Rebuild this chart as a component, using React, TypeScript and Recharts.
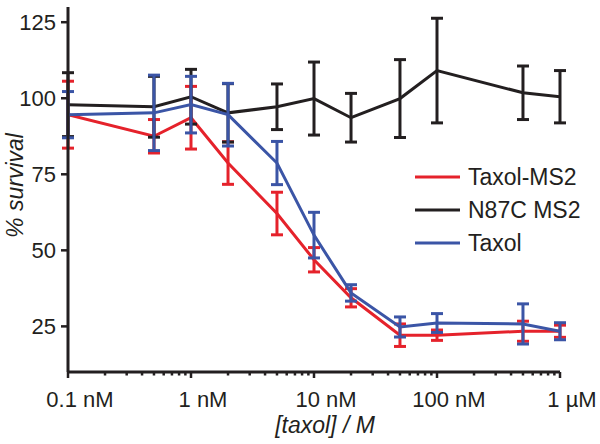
import { type FC } from "react";
import {
  ComposedChart,
  Line,
  XAxis,
  YAxis,
  ErrorBar,
  Legend,
  Label,
} from "recharts";

// concentrations in M
const conc = [1e-10, 5e-10, 1e-9, 2e-9, 5e-9, 1e-8, 2e-8, 5e-8, 1e-7, 5e-7, 1e-6];

const taxolMs2 = [94.6, 87.5, 93.6, 78.7, 62.1, 46.9, 34.4, 22.1, 22.1, 23.4, 23.4];
const taxolMs2Err = [11, 5.5, 10.3, 7, 7, 4, 3, 3.7, 1.7, 3.3, 2];

const n87c = [97.9, 97.2, 100.5, 95.2, 97.2, 99.9, 93.6, 99.9, 109.1, 101.8, 100.5];
const n87cErr = [10.5, 10, 9, 9.6, 7.5, 12, 8, 12.8, 17.2, 8.8, 8.6];

const taxol = [94.6, 95.2, 97.9, 94.6, 78.7, 55, 36, 24.8, 26.1, 25.8, 23.4];
const taxolErr = [7.6, 12.4, 9.3, 10.3, 7.1, 7.5, 2.7, 3.3, 3.1, 6.6, 2.8];

const majorTicks = [1e-10, 1e-9, 1e-8, 1e-7, 1e-6];
const majorLabels = ["0.1 nM", "1 nM", "10 nM", "100 nM", "1 µM"];
const yTicks = [25, 50, 75, 100, 125];

const RED = "#E5222B";
const BLACK = "#231F20";
const BLUE = "#3B55A6";
const FONT = "'Liberation Sans', Arial, sans-serif";

const legendItems = [
  { name: "Taxol-MS2", color: RED },
  { name: "N87C MS2", color: BLACK },
  { name: "Taxol", color: BLUE },
];

// minor ticks 2..9 of every decade
const minorTicks: number[] = [];
for (let d = -10; d < -6; d++) {
  for (let m = 2; m <= 9; m++) minorTicks.push(m * Math.pow(10, d));
}
const allTicks = [...majorTicks, ...minorTicks];

const data = conc.map((c, i) => ({
  c,
  red: taxolMs2[i],
  redErr: taxolMs2Err[i],
  black: n87c[i],
  blackErr: n87cErr[i],
  blue: taxol[i],
  blueErr: taxolErr[i],
}));

const XTick = (props: any) => {
  const { x, y, payload } = props;
  const idx = majorTicks.indexOf(payload.value);
  const major = idx >= 0;
  return (
    <g>
      <line x1={x} y1={y} x2={x} y2={y + (major ? 6 : 3.5)} stroke={BLACK} strokeWidth={2.5} />
      {major && (
        <text x={x + 12} y={y + 35} textAnchor="middle" fill={BLACK} fontSize={22} fontFamily={FONT}>
          {majorLabels[idx]}
        </text>
      )}
    </g>
  );
};

const LegendBox = () => (
  <svg width={190} height={100}>
    {legendItems.map((it, i) => (
      <g key={it.name}>
        <line x1={3} y1={17 + i * 33} x2={48} y2={17 + i * 33} stroke={it.color} strokeWidth={3} />
        <text x={56} y={25 + i * 33} fill={BLACK} fontSize={23} fontFamily={FONT}>
          {it.name}
        </text>
      </g>
    ))}
  </svg>
);

const App: FC = () => {
  return (
    <div style={{ position: "absolute", left: 0, top: 0, width: 600, height: 444, background: "#fff" }}>
      <ComposedChart
        width={600}
        height={444}
        data={data}
        margin={{ top: 7, right: 40, left: 0, bottom: 0 }}
      >
        <XAxis
          dataKey="c"
          type="number"
          scale="log"
          domain={[1e-10, 1e-6]}
          ticks={allTicks}
          interval={0}
          allowDataOverflow
          height={72}
          tickSize={0}
          tickMargin={0}
          tickLine={false}
          axisLine={{ stroke: BLACK, strokeWidth: 3 }}
          tick={<XTick />}
        >
          <Label
            content={(p: any) => {
              const vb = p.viewBox;
              return (
                <text
                  x={vb.x + vb.width / 2 + 11}
                  y={vb.y + 61}
                  textAnchor="middle"
                  fill={BLACK}
                  fontSize={23}
                  fontStyle="italic"
                  fontFamily={FONT}
                >
                  [taxol] / M
                </text>
              );
            }}
          />
        </XAxis>
        <YAxis
          type="number"
          domain={[10, 130]}
          ticks={yTicks}
          width={68}
          tickSize={7}
          tickMargin={5}
          allowDataOverflow
          axisLine={{ stroke: BLACK, strokeWidth: 3 }}
          tickLine={{ stroke: BLACK, strokeWidth: 2.5 }}
          tick={{ fill: BLACK, fontSize: 22, fontFamily: FONT }}
        >
          <Label
            content={(p: any) => {
              const vb = p.viewBox;
              const cx = 15;
              const cy = vb.y + vb.height / 2 - 4;
              return (
                <text
                  x={cx}
                  y={cy}
                  transform={`rotate(-90 ${cx} ${cy})`}
                  textAnchor="middle"
                  dominantBaseline="central"
                  fill={BLACK}
                  fontSize={23}
                  fontStyle="italic"
                  fontFamily={FONT}
                >
                  % survival
                </text>
              );
            }}
          />
        </YAxis>
        <Legend
          layout="vertical"
          align="center"
          verticalAlign="middle"
          wrapperStyle={{ left: 412, top: 160, width: 190, height: 100 }}
          content={<LegendBox />}
        />
        <Line
          type="linear"
          dataKey="red"
          stroke={RED}
          strokeWidth={3}
          dot={false}
          activeDot={false}
          isAnimationActive={false}
        >
          <ErrorBar dataKey="redErr" direction="y" width={6} stroke={RED} strokeWidth={3} isAnimationActive={false} />
        </Line>
        <Line
          type="linear"
          dataKey="black"
          stroke={BLACK}
          strokeWidth={3}
          dot={false}
          activeDot={false}
          isAnimationActive={false}
        >
          <ErrorBar dataKey="blackErr" direction="y" width={6} stroke={BLACK} strokeWidth={3} isAnimationActive={false} />
        </Line>
        <Line
          type="linear"
          dataKey="blue"
          stroke={BLUE}
          strokeWidth={3}
          dot={false}
          activeDot={false}
          isAnimationActive={false}
        >
          <ErrorBar dataKey="blueErr" direction="y" width={6} stroke={BLUE} strokeWidth={3} isAnimationActive={false} />
        </Line>
      </ComposedChart>
    </div>
  );
};

export default App;
